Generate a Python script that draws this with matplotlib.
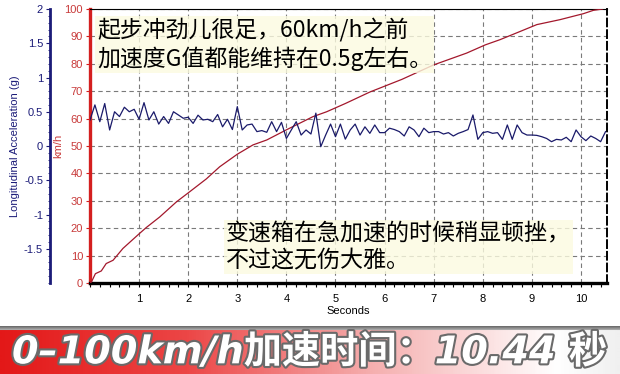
import numpy as np
import matplotlib
matplotlib.use('Agg')
import matplotlib.pyplot as plt
import matplotlib.patheffects as pe
from matplotlib.colors import LinearSegmentedColormap, to_rgb
from matplotlib.ticker import MultipleLocator

plt.rcParams['font.family'] = ['Liberation Sans', 'Noto Sans CJK SC', 'DejaVu Sans']
plt.rcParams['axes.unicode_minus'] = False

# ---------- dados ----------
# velocidade (km/h) x tempo (s)
speed_t = [0.0, 0.03, 0.11, 0.23, 0.33, 0.47, 0.67, 1.01, 1.15, 1.42, 1.76, 2.03,
           2.37, 2.64, 3.0, 3.32, 3.6, 4.0, 4.54, 4.82, 5.2, 5.7, 6.35, 7.0,
           7.67, 8.05, 8.35, 8.76, 9.1, 9.57, 10.05, 10.25, 10.44]
speed_kmh = [0, 0.4, 3.4, 4.4, 7.1, 8.3, 12.6, 18.1, 20.3, 24.1, 29.6, 33.3,
             38.0, 42.4, 47.0, 50.4, 52.2, 55.9, 60.7, 62.5, 65.5, 69.7, 74.3, 79.6,
             83.9, 86.9, 88.8, 91.8, 94.3, 96.1, 98.3, 99.5, 100]

# aceleração longitudinal (g), uma amostra a cada 0.1 s
accel_g = [0.38, 0.60, 0.355, 0.62, 0.234, 0.50, 0.43, 0.566, 0.50, 0.536,
           0.39, 0.633, 0.38, 0.50, 0.32, 0.43, 0.33, 0.50, 0.453, 0.405,
           0.42, 0.33, 0.45, 0.38, 0.39, 0.355, 0.46, 0.28, 0.39, 0.24,
           0.575, 0.234, 0.307, 0.32, 0.21, 0.225, 0.20, 0.355, 0.21, 0.345,
           0.11, 0.234, 0.355, 0.16, 0.234, 0.175, 0.48, -0.01, 0.16, 0.32,
           0.136, 0.32, 0.10, 0.234, 0.32,
           0.16, 0.28, 0.185, 0.307, 0.195, 0.195, 0.26, 0.24, 0.21, 0.146,
           0.28, 0.234, 0.136, 0.26, 0.195, 0.21, 0.21, 0.175, 0.195, 0.146,
           0.185, 0.21, 0.24, 0.453, 0.097, 0.195, 0.21, 0.185, 0.195, 0.097,
           0.307, 0.097, 0.307, 0.195, 0.16, 0.16, 0.155, 0.136, 0.11, 0.063,
           0.097, 0.088, 0.127, 0.063, 0.234, 0.136, 0.078, 0.146, 0.11, 0.063,
           0.21]
accel_dt = 0.1

x_ticks = list(range(1, 11))
speed_ticks = list(range(0, 101, 10))
accel_ticks = [-1.5, -1, -0.5, 0, 0.5, 1, 1.5, 2]

note_top = '起步冲劲儿很足，60km/h之前\n加速度G值都能维持在0.5g左右。'
note_bottom = '变速箱在急加速的时候稍显顿挫，\n不过这无伤大雅。'
banner_text = '0–100km/h加速时间：10.44 秒'

# ---------- cores ----------
red_axis = '#d41f1f'
red_line = '#a3182c'
red_label = '#c83a3a'
blue_axis = '#1b1b78'
blue_line = '#1a1a6a'

W, H = 620, 374
fig = plt.figure(figsize=(W / 100, H / 100), dpi=100)
fig.patch.set_facecolor('white')

# eixo principal (velocidade)
ax = fig.add_axes([90 / W, 1 - 283 / H, 517 / W, 274 / H])
ax.plot(speed_t, speed_kmh, color=red_line, lw=0.9, zorder=3)
ax.set_xlim(0, 10.53)
ax.set_ylim(0, 100)
ax.set_xticks(x_ticks)
ax.xaxis.set_minor_locator(MultipleLocator(0.2))
ax.set_yticks(speed_ticks)
ax.grid(True, which='major', color='#7a7a7a', ls=(0, (4, 3)), lw=0.8)
ax.tick_params(axis='x', which='both', direction='out', length=3, width=0.8,
               colors='black', labelsize=8, pad=5)
ax.tick_params(axis='y', which='major', direction='out', length=3, width=0.8,
               colors=red_axis, labelcolor=red_label, labelsize=8, pad=2)
ax.spines['left'].set_color(red_axis)
ax.spines['left'].set_linewidth(2.4)
ax.spines['bottom'].set_color('black')
ax.spines['bottom'].set_linewidth(2.4)
ax.spines['top'].set_linewidth(0.8)
ax.spines['right'].set_linestyle((0, (4, 2)))
ax.spines['right'].set_linewidth(1.4)
ax.set_xlabel('Seconds', fontsize=8)
ax.xaxis.set_label_coords(0.5, -0.085)
ax.set_ylabel('km/h', color=red_label, fontsize=8)
ax.yaxis.set_label_coords(-0.052, 0.5)

# eixo da aceleração
ax2 = ax.twinx()
t_acc = np.arange(len(accel_g)) * accel_dt
ax2.plot(t_acc, accel_g, color=blue_line, lw=0.9, zorder=4)
ax2.set_ylim(-2, 2)
ax2.set_yticks(accel_ticks)
ax2.set_yticklabels(['%g' % v for v in accel_ticks])
ax2.yaxis.set_minor_locator(MultipleLocator(0.1))
ax2.yaxis.tick_left()
ax2.yaxis.set_label_position('left')
for s in ['top', 'bottom', 'right']:
    ax2.spines[s].set_visible(False)
ax2.spines['left'].set_visible(True)
ax2.spines['left'].set_position(('axes', -40 / 517))
ax2.spines['left'].set_color(blue_axis)
ax2.spines['left'].set_linewidth(2.0)
ax2.tick_params(axis='y', which='major', direction='out', length=3, width=0.8,
                colors=blue_axis, labelsize=8, pad=2)
ax2.tick_params(axis='y', which='minor', direction='out', length=1.5, width=0.6,
                colors=blue_axis)
ax2.set_ylabel('Longitudinal Acceleration (g)', color=blue_axis, fontsize=8)
ax2.yaxis.set_label_coords(-0.135, 0.5)

# anotações
box = dict(boxstyle='square,pad=0.08', fc='#fcfbe0', ec='none', alpha=0.8)
ax2.text((97 - 90) / 517, 1 - (18 - 9) / 274, note_top, transform=ax2.transAxes,
         ha='left', va='top', fontsize=16.5, linespacing=1.25,
         family=['Noto Sans CJK SC', 'DejaVu Sans'], color='black', bbox=box, zorder=10)
ax2.text((226 - 90) / 517, 1 - (222 - 9) / 274, note_bottom, transform=ax2.transAxes,
         ha='left', va='top', fontsize=16.6, linespacing=1.22,
         family=['Noto Sans CJK SC', 'DejaVu Sans'], color='black', bbox=box, zorder=10)

# faixa inferior com gradiente
bh = 48
bax = fig.add_axes([0, 0, 1, bh / H])
stops = [(0.0, '#e31818'), (0.3, '#ec4646'), (0.6, '#f5aeae'),
         (0.8, '#fce4e4'), (0.9, '#ffffff'), (1.0, '#f0f0f0')]
cmap = LinearSegmentedColormap.from_list('banner', stops)
img = cmap(np.linspace(0, 1, W))[None, :, :3].repeat(bh, axis=0)
gray_top = np.array(to_rgb('#5c5c5c'))
gray_bot = np.array(to_rgb('#a8a8a8'))
for i in range(5):
    img[i, :, :] = gray_top + (gray_bot - gray_top) * i / 4
bax.imshow(img, extent=[0, 1, 0, 1], aspect='auto', origin='upper')
bax.set_axis_off()
fig.text(12 / W, (374 - 353) / H, banner_text, ha='left', va='center',
         fontsize=27.5, weight='heavy', style='italic', color='white',
         family=['DejaVu Sans', 'Noto Sans CJK SC'],
         path_effects=[pe.Stroke(linewidth=3, foreground='#6a6a6a'), pe.Normal()])

fig.savefig('out.png', dpi=100)
